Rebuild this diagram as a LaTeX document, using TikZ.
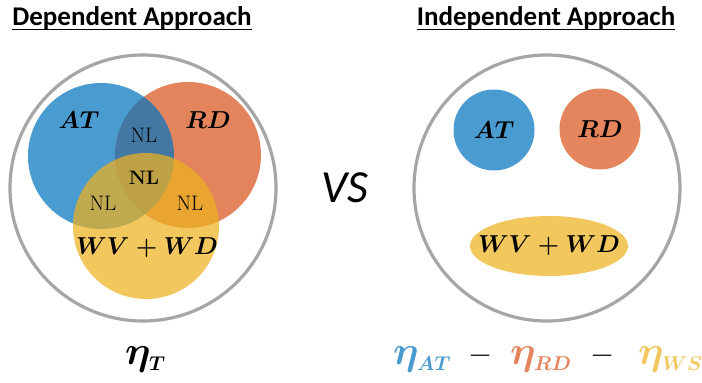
\RequirePackage{fix-cm}
\documentclass[tikz,border=0pt]{standalone}
\usepackage{fontspec}
\usetikzlibrary{shapes.geometric}
\newfontfamily\calib{Carlito}
\definecolor{ringgray}{RGB}{166,166,166}
\definecolor{atblue}{RGB}{74,155,207}
\definecolor{rdorange}{RGB}{228,133,94}
\definecolor{wsgold}{RGB}{242,199,94}
\definecolor{atbase}{RGB}{4,116,190}
\definecolor{rdbase}{RGB}{217,85,31}
\definecolor{wsbase}{RGB}{237,177,31}
\newcommand{\effsub}[1]{\eta_{\scriptscriptstyle #1}}
\begin{document}
\begin{tikzpicture}[x=1pt,y=-1pt,
  ring/.style={circle,draw=ringgray,line width=3.2pt,minimum size=266pt,inner sep=0},
  venn/.style={circle,minimum size=146pt,fill opacity=0.72,inner sep=0},
  solo/.style={circle,minimum size=81pt,inner sep=0},
  lbl/.style={font=\fontsize{24.5}{30}\selectfont\boldmath,inner sep=0},
  nl/.style={font=\fontsize{21}{24}\selectfont,inner sep=0},
  nlb/.style={font=\fontsize{19.5}{22}\selectfont\bfseries,inner sep=0},
  title/.style={font=\calib\bfseries\fontsize{27}{32}\selectfont,inner sep=0,anchor=base},
  rule/.style={line width=1.8pt},
  eta/.style={font=\fontsize{40}{44}\selectfont\boldmath,inner sep=0,anchor=base west},
  minus/.style={font=\fontsize{31}{36}\selectfont,inner sep=0}
]
\useasboundingbox (0,0) rectangle (702,383);

% headings with their underlines
\node[title] (tdep) at (132,25) {Dependent Approach};
\node[title] (tind) at (546,25) {Independent Approach};
\draw[rule] ([yshift=-4.5pt]tdep.base west) -- ([yshift=-4.5pt]tdep.base east);
\draw[rule] ([yshift=-4.5pt]tind.base west) -- ([yshift=-4.5pt]tind.base east);

% outer rings
\node[ring] (ringL) at (143,188) {};
\node[ring] (ringR) at (547,188) {};

% overlapping sets
\node[venn,fill=rdbase] (vRD) at (188,155) {};
\node[venn,fill=atbase] (vAT) at (101,156) {};
\node[venn,fill=wsbase] (vWS) at (146,226) {};

\node[lbl] (lAT) at (79,120) {$AT$};
\node[lbl] (lRD) at (208,120) {$RD$};
\node[lbl] (lWS) at (147,248) {$WV+WD$};
\node[nl] (nlTop) at (144,135) {NL};
\node[nlb] (nlMid) at (144,178) {NL};
\node[nl] (nlLeft) at (103,203) {NL};
\node[nl] (nlRight) at (190,203) {NL};

% separate sets
\node[solo,fill=atblue] (sAT) at (494,130) {};
\node[solo,fill=rdorange] (sRD) at (600,129) {};
\node[ellipse,fill=wsgold,minimum width=158pt,minimum height=60pt,inner sep=0] (sWS) at (549,246) {};
\node[lbl] (rAT) at (494,130) {$AT$};
\node[lbl] (rRD) at (600,129) {$RD$};
\node[lbl] (rWS) at (549,246) {$WV+WD$};

% comparison
\node[font=\calib\itshape\fontsize{46}{50}\selectfont,inner sep=0] (vs) at (345,188) {VS};

% efficiencies
\node[eta] (eT) at (125,364) {$\effsub{T}$};
\node[eta,text=atblue] (eAT) at (393,364) {$\effsub{AT}$};
\node[minus] (m1) at (481,356) {$-$};
\node[eta,text=rdorange] (eRD) at (510,364) {$\effsub{RD}$};
\node[minus] (m2) at (603,356) {$-$};
\node[eta,text=wsgold] (eWS) at (638,364) {$\effsub{WS}$};
\end{tikzpicture}
\end{document}
